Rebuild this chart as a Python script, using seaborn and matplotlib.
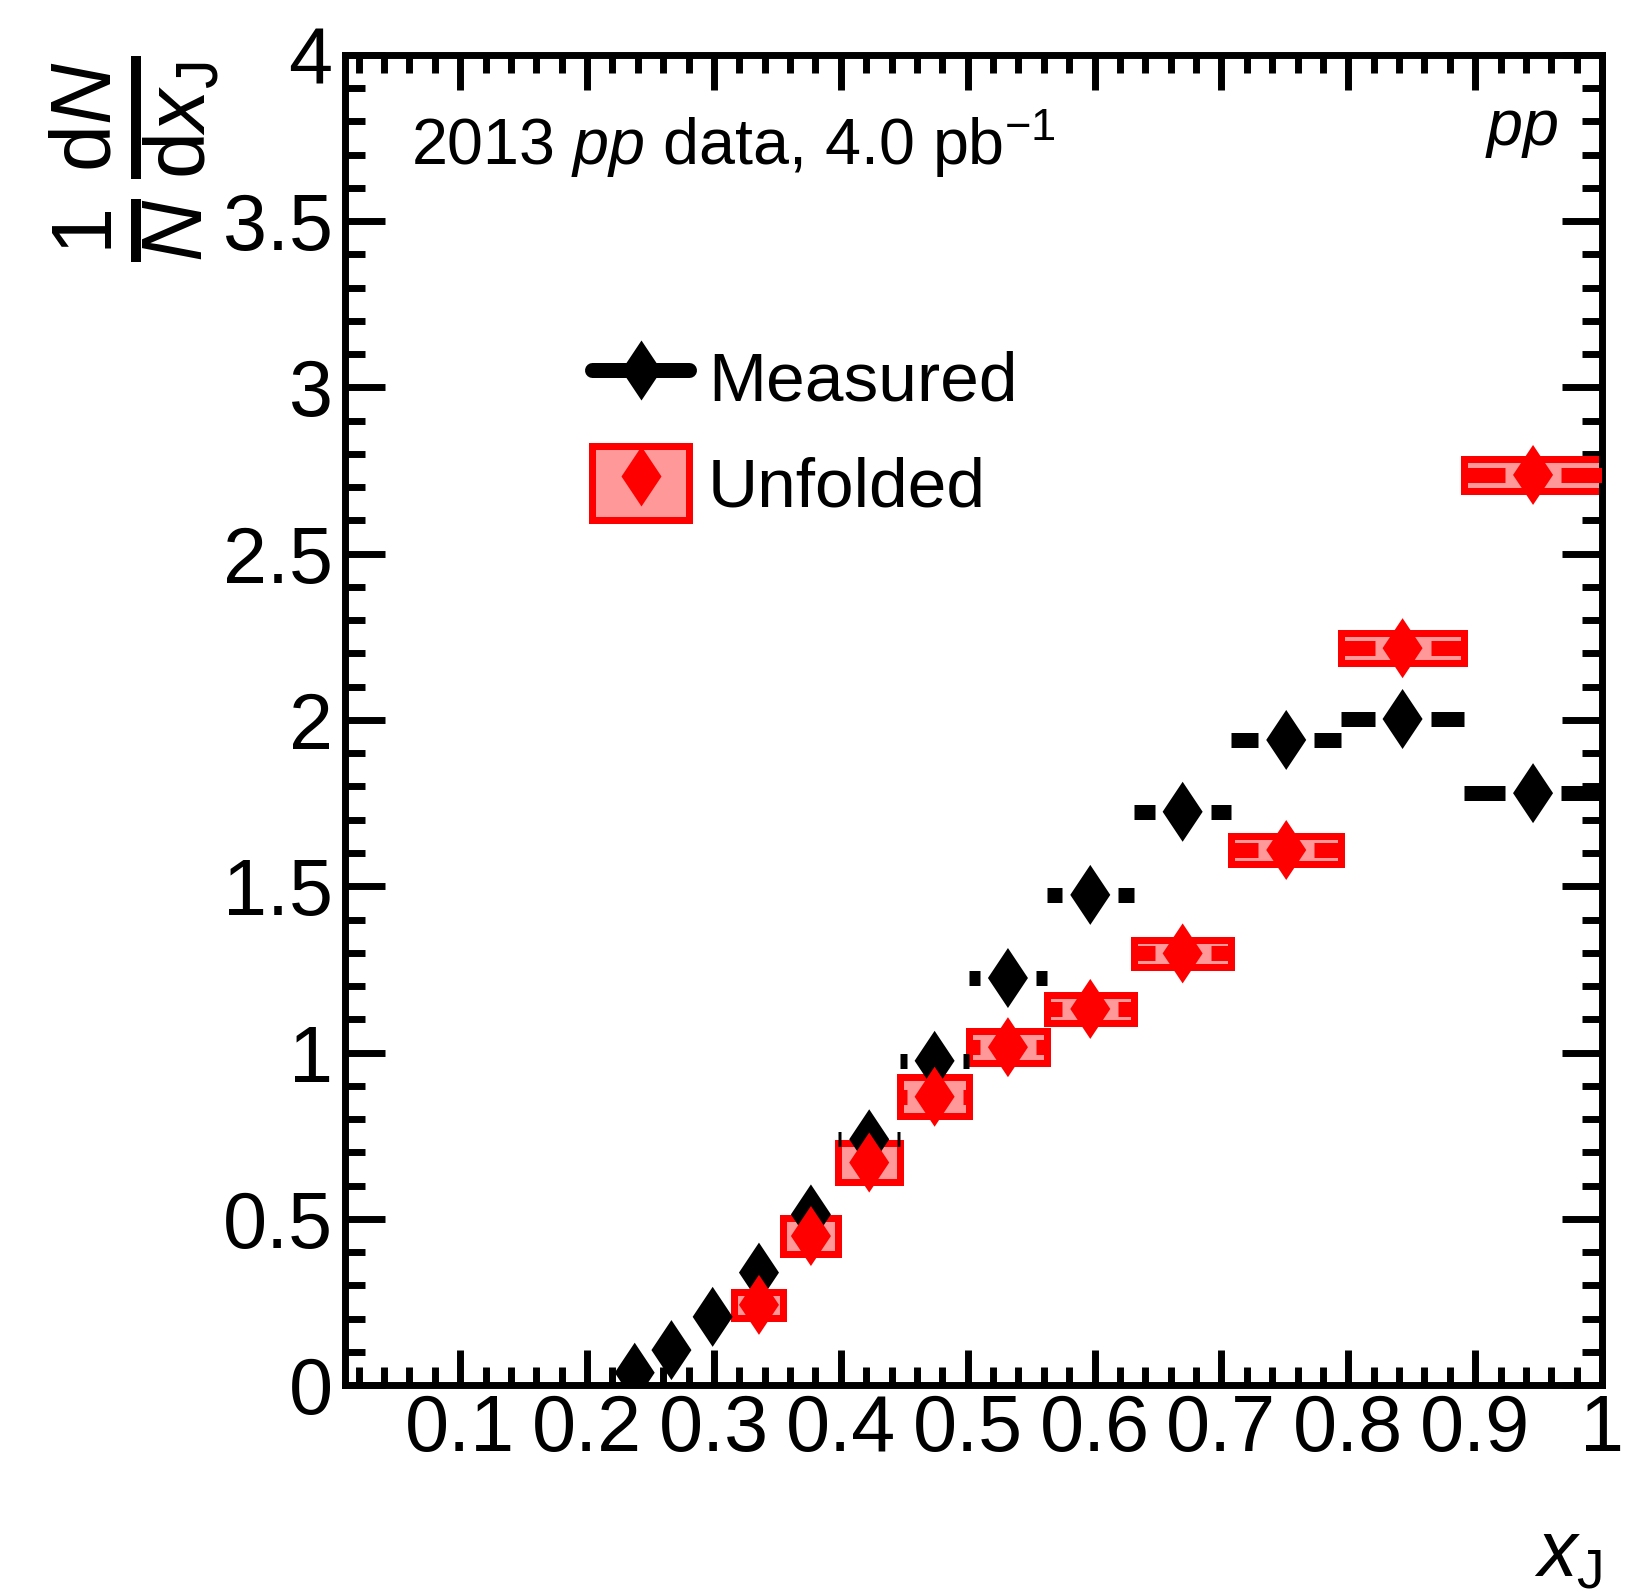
import numpy as np
import pandas as pd
import matplotlib
matplotlib.use("Agg")
import matplotlib.pyplot as plt
import seaborn as sns
from matplotlib.path import Path
from matplotlib.markers import MarkerStyle
from matplotlib.lines import Line2D
from matplotlib.patches import Rectangle
from matplotlib.legend_handler import HandlerTuple
from matplotlib.ticker import MultipleLocator, FuncFormatter

# ---------------- data ----------------
bin_edges = [0.2239, 0.2512, 0.2818, 0.3162, 0.3548, 0.3981, 0.4467,
             0.5012, 0.5623, 0.6310, 0.7079, 0.7943, 0.8913, 1.0]
measured = [0.037, 0.105, 0.205, 0.338, 0.513, 0.739, 0.975,
            1.224, 1.474, 1.724, 1.940, 2.003, 1.780]
unfolded = [np.nan, np.nan, np.nan, 0.241, 0.448, 0.669, 0.867,
            1.016, 1.131, 1.298, 1.609, 2.216, 2.737]
unfolded_syst = [np.nan, np.nan, np.nan, 0.039, 0.053, 0.059, 0.059,
                 0.048, 0.042, 0.041, 0.042, 0.045, 0.047]
x_ticks = [0.1, 0.2, 0.3, 0.4, 0.5, 0.6, 0.7, 0.8, 0.9, 1.0]
y_ticks = [0, 0.5, 1, 1.5, 2, 2.5, 3, 3.5, 4]
legend_labels = ["Measured", "Unfolded"]
x_range = (0.0092, 1.0)
y_range = (0.0, 4.0)

# ---------------- style ----------------
sns.set_style("ticks")
plt.rcParams["font.family"] = ["Liberation Sans", "DejaVu Sans"]
plt.rcParams["mathtext.fontset"] = "custom"
plt.rcParams["mathtext.rm"] = "Liberation Sans"
plt.rcParams["mathtext.it"] = "Liberation Sans:italic"
plt.rcParams["mathtext.bf"] = "Liberation Sans:bold"
plt.rcParams["mathtext.sf"] = "Liberation Sans"
plt.rcParams["text.color"] = "black"
plt.rcParams["axes.labelcolor"] = "black"
plt.rcParams["xtick.color"] = "black"
plt.rcParams["ytick.color"] = "black"
plt.rcParams["legend.labelcolor"] = "black"

RED = "#ff0000"
PINK = "#ff9999"
DPI = 100
W, H = 1626, 1593
LBL = 57

fig = plt.figure(figsize=(W / DPI, H / DPI), dpi=DPI)
ax_l, ax_r, ax_t, ax_b = 345, 1602, 55, 1385
ax = fig.add_axes([ax_l / W, 1 - ax_b / H, (ax_r - ax_l) / W, (ax_b - ax_t) / H])
ax.set_xlim(*x_range)
ax.set_ylim(*y_range)

edges = np.array(bin_edges)
lo, hi = edges[:-1], edges[1:]
centers = 0.5 * (lo + hi)
meas = np.array(measured)
unf = np.array(unfolded)
syst = np.array(unfolded_syst)

# gap of error bar around marker (28 px) in data units
px_per_unit = (ax_r - ax_l) / (x_range[1] - x_range[0])
gap = 28.0 / px_per_unit
ERR_LW = 15 * 72 / DPI
BOX_LW = 7 * 72 / DPI
MS = 60 * 72 / DPI

diamond = MarkerStyle(Path([(0, 1), (0.667, 0), (0, -1), (-0.667, 0), (0, 1)],
                           [Path.MOVETO, Path.LINETO, Path.LINETO, Path.LINETO, Path.CLOSEPOLY]))


def draw_hbars(yvals, color, z):
    ok = ~np.isnan(yvals)
    lmask = ok & (centers - gap > lo)
    rmask = ok & (centers + gap < hi)
    ax.hlines(yvals[lmask], lo[lmask], (centers - gap)[lmask], colors=color,
              linewidth=ERR_LW, zorder=z)
    ax.hlines(yvals[rmask], (centers + gap)[rmask], hi[rmask], colors=color,
              linewidth=ERR_LW, zorder=z)


# systematic boxes for unfolded
ok = ~np.isnan(unf)
ax.bar(lo[ok], 2 * syst[ok], bottom=(unf - syst)[ok], width=(hi - lo)[ok],
       align="edge", facecolor=PINK, edgecolor=RED, linewidth=BOX_LW, zorder=2)

# measured
draw_hbars(meas, "black", 3)
df_m = pd.DataFrame({"x": centers, "y": meas})
sns.scatterplot(data=df_m, x="x", y="y", marker=diamond, s=MS ** 2, color="black",
                edgecolor="none", linewidth=0, ax=ax, zorder=4, legend=False)

# unfolded
draw_hbars(unf, RED, 5)
df_u = pd.DataFrame({"x": centers[ok], "y": unf[ok]})
sns.scatterplot(data=df_u, x="x", y="y", marker=diamond, s=MS ** 2, color=RED,
                edgecolor="none", linewidth=0, ax=ax, zorder=6, legend=False)

# ---------------- axes ----------------
for sp in ax.spines.values():
    sp.set_linewidth(5)
    sp.set_color("black")
    sp.set_visible(True)
ax.xaxis.set_major_locator(MultipleLocator(0.1))
ax.xaxis.set_minor_locator(MultipleLocator(0.02))
ax.yaxis.set_major_locator(MultipleLocator(0.5))
ax.yaxis.set_minor_locator(MultipleLocator(0.1))
fmt = FuncFormatter(lambda v, p: "%g" % round(v, 3))
ax.xaxis.set_major_formatter(fmt)
ax.yaxis.set_major_formatter(fmt)
ax.tick_params(which="both", direction="in", top=True, right=True, width=5,
               colors="black", labelcolor="black", labelsize=LBL)
ax.tick_params(axis="x", which="major", length=25, pad=6)
ax.tick_params(axis="x", which="minor", length=13)
ax.tick_params(axis="y", which="major", length=29, pad=9)
ax.tick_params(axis="y", which="minor", length=14.5)
ax.set_xlabel("")
ax.set_ylabel("")

# axis titles
ax.text(1.0, (ax_b - 1576) / (ax_b - ax_t), r"$x_{\mathrm{J}}$", transform=ax.transAxes,
        ha="right", va="baseline", fontsize=LBL, color="black")
ax.text((134 - ax_l) / (ax_r - ax_l), 1.0,
        r"$\genfrac{}{}{10}{0}{1}{N}\,\genfrac{}{}{10}{0}{\mathrm{d}N}{\mathrm{d}x_{\mathrm{J}}}$",
        transform=ax.transAxes, rotation=90, ha="center", va="top", fontsize=61,
        color="black")

# annotations
ax.text((411 - ax_l) / (ax_r - ax_l), (ax_b - 165) / (ax_b - ax_t),
        r"2013 $pp$ data, 4.0 pb$^{\mathrm{-1}}$", transform=ax.transAxes,
        ha="left", va="baseline", fontsize=46.5, color="black")
ax.text((1558 - ax_l) / (ax_r - ax_l), (ax_b - 145) / (ax_b - ax_t), r"$pp$",
        transform=ax.transAxes, ha="right", va="baseline", fontsize=46.5, color="black")

# legend
h1 = Line2D([], [], color="black", lw=ERR_LW, marker=diamond, ms=MS, mec="none")
h2 = (Rectangle((0, 0), 1, 1, facecolor=PINK, edgecolor=RED, linewidth=BOX_LW),
      Line2D([], [], ls="none", color=RED, marker=diamond, ms=MS, mec="none"))
leg = ax.legend([h1, h2], legend_labels, loc="upper left",
                bbox_to_anchor=(592 / W, 1 - 340 / H), bbox_transform=fig.transFigure,
                frameon=False, fontsize=50, handlelength=1.40, handleheight=1.27,
                handletextpad=0.27, labelspacing=0.45, borderpad=0, borderaxespad=0,
                handler_map={tuple: HandlerTuple(ndivide=1)})
for t in leg.get_texts():
    t.set_color("black")

fig.savefig("out.png", dpi=DPI)
